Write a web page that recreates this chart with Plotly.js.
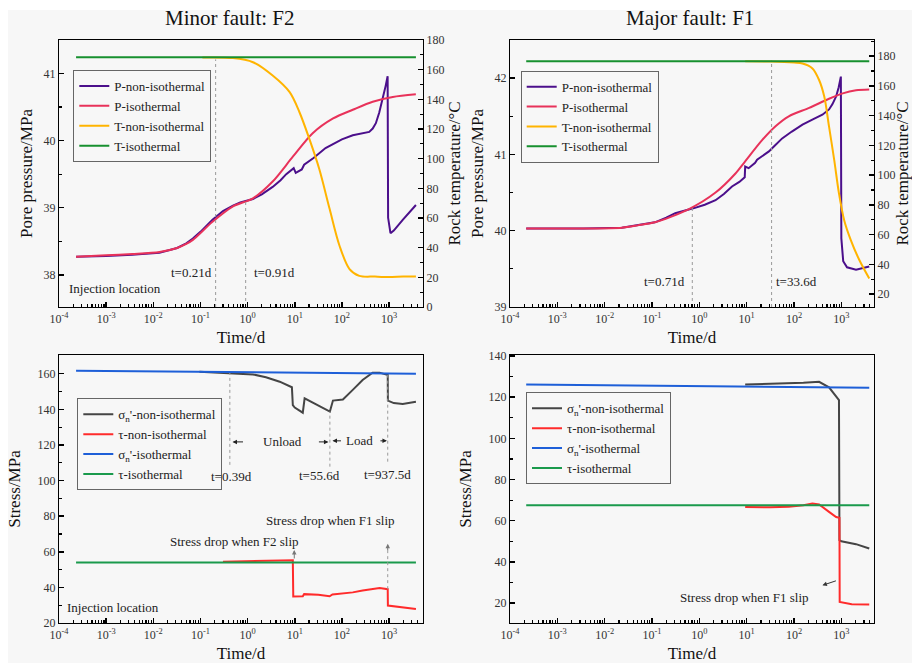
<!DOCTYPE html>
<html><head><meta charset="utf-8">
<script src="https://cdn.plot.ly/plotly-3.0.1.min.js"></script>
<style>html,body{margin:0;padding:0;background:#fff}#chart{width:912px;height:663px}</style>
</head><body><div id="chart"></div>
<script>
// ---------- Panel 1: Minor fault F2 (pressure & temperature) ----------
const p1_t_Pnon = [0.00023, 0.001, 0.0036, 0.0135, 0.032, 0.05, 0.069, 0.1, 0.18, 0.3, 0.49, 0.7, 1.3, 2, 3.4, 5, 6.6, 9.5, 10.5, 14.1, 15.8, 25, 45, 100, 170, 250, 380, 450, 525, 620, 724, 850, 933, 955, 1072, 1259, 1950, 3715];
const p1_Pnon   = [38.27, 38.28, 38.30, 38.33, 38.40, 38.47, 38.54, 38.64, 38.82, 38.95, 39.03, 39.08, 39.13, 39.20, 39.31, 39.41, 39.50, 39.59, 39.52, 39.57, 39.64, 39.74, 39.89, 40.02, 40.08, 40.10, 40.13, 40.18, 40.26, 40.42, 40.60, 40.82, 40.96, 38.85, 38.62, 38.66, 38.82, 39.04];
const p1_t_Piso = [0.00023, 0.001, 0.0036, 0.0135, 0.032, 0.05, 0.069, 0.18, 0.49, 1.3, 3.4, 9.1, 24, 65, 170, 450, 1200, 3700];
const p1_Piso   = [38.27, 38.29, 38.31, 38.34, 38.40, 38.46, 38.52, 38.79, 39.02, 39.14, 39.39, 39.76, 40.11, 40.33, 40.46, 40.58, 40.65, 40.69];
const p1_t_Tnon = [0.11, 0.49, 1.3, 3.4, 7.8, 12.6, 20.4, 33.1, 55, 89, 145, 234, 501, 1000, 1995, 3715];
const p1_Tnon   = [168.2, 167.8, 165, 156, 144.8, 131.3, 113.3, 93, 66, 41.3, 25.6, 21, 20.5, 20.2, 20.5, 20.5];
const p1_t_Tiso = [0.00023, 3715];
const p1_Tiso   = [168.3, 168.3];
const p1_events = [0.21, 0.91];
const p1_eventTop = [41.21, 39.12];

// ---------- Panel 2: Major fault F1 (pressure & temperature) ----------
const p2_t_Pnon = [0.00022, 0.0036, 0.023, 0.05, 0.115, 0.2, 0.31, 0.81, 1.3, 2.2, 3.3, 4.9, 7, 9.1, 9.3, 11, 15.1, 16.6, 22, 29.5, 40, 56.2, 90, 151, 250, 398, 550, 650, 776, 880, 977, 1000, 1096, 1318, 2042, 3890];
const p2_Pnon   = [40.03, 40.03, 40.04, 40.07, 40.11, 40.17, 40.23, 40.30, 40.34, 40.40, 40.48, 40.58, 40.64, 40.70, 40.84, 40.82, 40.89, 40.93, 40.98, 41.04, 41.12, 41.21, 41.30, 41.39, 41.46, 41.52, 41.59, 41.66, 41.76, 41.88, 42.02, 39.9, 39.6, 39.52, 39.49, 39.53];
const p2_t_Piso = [0.00022, 0.0036, 0.023, 0.05, 0.115, 0.59, 2.2, 5.8, 9.3, 21.4, 40.7, 77.6, 209, 550, 1072, 2042, 3890];
const p2_Piso   = [40.03, 40.03, 40.04, 40.07, 40.11, 40.28, 40.50, 40.75, 40.91, 41.19, 41.37, 41.50, 41.61, 41.73, 41.80, 41.84, 41.85];
const p2_t_Tnon = [9.3, 31.6, 100, 151, 245, 339, 437, 550, 708, 891, 1148, 1585, 2399, 3890];
const p2_Tnon   = [176.5, 176.3, 175.6, 175, 171.7, 163.9, 152.6, 132.5, 110, 87.7, 69.7, 56.3, 42.9, 30.5];
const p2_t_Tiso = [0.00022, 3890];
const p2_Tiso   = [176.5, 176.5];
const p2_events = [0.71, 33.6];
const p2_eventTop = [40.31, 42.23];

// ---------- Panel 3: Minor fault F2 (stress) ----------
const p3_t_Snon = [0.095, 0.45, 1.3, 2.45, 4.8, 8.7, 9.1, 10, 14.8, 16.2, 28.2, 55.6, 64.6, 105, 170, 275, 447, 631, 871, 937, 945, 1259, 1950, 3715];
const p3_Snon   = [161.1, 160.4, 159.6, 158, 155.5, 152.4, 142.4, 141, 138.1, 146.2, 143, 138.7, 144.9, 145.5, 150.9, 156.5, 160.6, 160.6, 159.5, 159.5, 144.9, 143.5, 143, 144.3];
const p3_t_Tnon = [0.3, 3.2, 9.1, 9.3, 14.8, 15.8, 31.6, 55, 63, 170, 275, 631, 937, 945, 3715];
const p3_Tnon   = [54.4, 54.8, 55.2, 34.9, 35, 36.2, 35.8, 35, 36, 37.2, 38.3, 39.6, 39, 29.8, 27.9];
const p3_t_Siso = [0.00023, 1, 3715];
const p3_Siso   = [161.7, 160.9, 160.0];
const p3_t_Tiso = [0.00023, 3715];
const p3_Tiso   = [54.0, 54.0];
const p3_events = [0.42, 55.6, 937.5];
const p3_eventTop = [160.4, 138.7, 159.3];
const p3_eventBot = [108.8, 107.8, 110.6];
const p3_slipT = [937.5, 937.5];
const p3_slipS = [39, 63];

// ---------- Panel 4: Major fault F1 (stress) ----------
const p4_t_Snon = [9.3, 31.6, 77.6, 158, 339, 550, 891, 912, 1000, 2042, 3890];
const p4_Snon   = [126.2, 126.4, 126.6, 127, 127.5, 124.8, 118.6, 50.5, 50, 48.6, 46.5];
const p4_t_Tnon = [9.3, 31.6, 77.6, 158, 245, 339, 550, 776, 912, 923, 1660, 3890];
const p4_Tnon   = [66.7, 66.5, 66.8, 67.5, 68.3, 67.9, 64.3, 61.8, 61.4, 20.5, 19.4, 19.3];
const p4_t_Siso = [0.00022, 3890];
const p4_Siso   = [126.2, 124.6];
const p4_t_Tiso = [0.00022, 3890];
const p4_Tiso   = [67.5, 67.5];

// ---------- Tick labels ----------
const decadeVals = [0.0001, 0.001, 0.01, 0.1, 1, 10, 100, 1000];
const decadeText = ['10<sup>-4</sup>', '10<sup>-3</sup>', '10<sup>-2</sup>', '10<sup>-1</sup>', '10<sup>0</sup>', '10<sup>1</sup>', '10<sup>2</sup>', '10<sup>3</sup>'];

const FONT = "'Liberation Serif', 'Times New Roman', serif";
const COL = {
  Pnon: '#4B0F8B', Piso: '#E8325A', Tnon: '#FFB400', Tiso: '#17902F',
  Snon: '#454545', Tau: '#FF2B2B', Siso: '#1E5FD8', TauIso: '#1A9A4C'
};

function tr(x, y, name, color, xa, ya, legend, smooth) {
  const ln = { color: color, width: 2 };
  if (smooth) { ln.shape = 'spline'; ln.smoothing = smooth; }
  return { type: 'scatter', mode: 'lines', x: x, y: y, name: name,
    line: ln, xaxis: xa, yaxis: ya, legend: legend };
}
function dotted(x, y, xa, ya) {
  return { type: 'scatter', mode: 'lines', x: x, y: y, xaxis: xa, yaxis: ya,
    line: { color: '#9a9a9a', width: 1, dash: 'dot' }, showlegend: false };
}

const sn = 'σ<sub>n</sub>\'';
// main subplots: x/y, x2/y2, x3/y3, x4/y4 ; temperature overlays: y5 on panel 1, y6 on panel 2
const traces = [
  tr(p1_t_Pnon, p1_Pnon, 'P-non-isothermal', COL.Pnon, 'x', 'y', 'legend'),
  tr(p1_t_Piso, p1_Piso, 'P-isothermal', COL.Piso, 'x', 'y', 'legend', 0.8),
  tr(p1_t_Tnon, p1_Tnon, 'T-non-isothermal', COL.Tnon, 'x', 'y5', 'legend', 0.9),
  tr(p1_t_Tiso, p1_Tiso, 'T-isothermal', COL.Tiso, 'x', 'y5', 'legend'),

  tr(p2_t_Pnon, p2_Pnon, 'P-non-isothermal', COL.Pnon, 'x2', 'y2', 'legend2'),
  tr(p2_t_Piso, p2_Piso, 'P-isothermal', COL.Piso, 'x2', 'y2', 'legend2', 0.8),
  tr(p2_t_Tnon, p2_Tnon, 'T-non-isothermal', COL.Tnon, 'x2', 'y6', 'legend2', 0.9),
  tr(p2_t_Tiso, p2_Tiso, 'T-isothermal', COL.Tiso, 'x2', 'y6', 'legend2'),

  tr(p3_t_Snon, p3_Snon, sn + '-non-isothermal', COL.Snon, 'x3', 'y3', 'legend3'),
  tr(p3_t_Tnon, p3_Tnon, 'τ-non-isothermal', COL.Tau, 'x3', 'y3', 'legend3'),
  tr(p3_t_Siso, p3_Siso, sn + '-isothermal', COL.Siso, 'x3', 'y3', 'legend3'),
  tr(p3_t_Tiso, p3_Tiso, 'τ-isothermal', COL.TauIso, 'x3', 'y3', 'legend3'),

  tr(p4_t_Snon, p4_Snon, sn + '-non-isothermal', COL.Snon, 'x4', 'y4', 'legend4'),
  tr(p4_t_Tnon, p4_Tnon, 'τ-non-isothermal', COL.Tau, 'x4', 'y4', 'legend4'),
  tr(p4_t_Siso, p4_Siso, sn + '-isothermal', COL.Siso, 'x4', 'y4', 'legend4'),
  tr(p4_t_Tiso, p4_Tiso, 'τ-isothermal', COL.TauIso, 'x4', 'y4', 'legend4')
];
p1_events.forEach((t, i) => traces.push(dotted([t, t], [37.52, p1_eventTop[i]], 'x', 'y')));
p2_events.forEach((t, i) => traces.push(dotted([t, t], [39, p2_eventTop[i]], 'x2', 'y2')));
p3_events.forEach((t, i) => traces.push(dotted([t, t], [p3_eventBot[i], p3_eventTop[i]], 'x3', 'y3')));
traces.push(dotted(p3_slipT, p3_slipS, 'x3', 'y3'));

const tickFont = { family: FONT, size: 12, color: '#333' };
const titleFont = { family: FONT, size: 17, color: '#111' };

function xAxis(domain, anchor, range) {
  return {
    type: 'log', domain: domain, anchor: anchor, range: range,
    tickmode: 'array', tickvals: decadeVals, ticktext: decadeText,
    ticks: 'inside', ticklen: 5, tickwidth: 1.5, tickcolor: '#000',
    minor: { ticks: 'inside', ticklen: 3, tickwidth: 1.2, tickcolor: '#000', dtick: 'D1', showgrid: false },
    showline: true, linecolor: '#000', linewidth: 1.2, mirror: true,
    showgrid: false, zeroline: false, tickfont: tickFont,
    title: { text: 'Time/d', font: titleFont, standoff: 6 }
  };
}
function yAxis(domain, anchor, range, dtick, title, standoff, extra) {
  return Object.assign({
    domain: domain, anchor: anchor, range: range, tickmode: 'linear', tick0: 0, dtick: dtick,
    ticks: 'inside', ticklen: 5, tickwidth: 1.5, tickcolor: '#000',
    minor: { ticks: 'inside', ticklen: 3, tickwidth: 1.2, tickcolor: '#000', dtick: dtick / 2, showgrid: false },
    showline: true, linecolor: '#000', linewidth: 1.2,
    showgrid: false, zeroline: false, tickfont: tickFont,
    title: { text: title, font: titleFont, standoff: standoff }
  }, extra || {});
}

const W = 912, H = 663;
const dx1 = [59 / W, 423 / W], dx2 = [510 / W, 874 / W];
const dyTop = [(H - 307) / H, (H - 40) / H], dyBot = [(H - 623) / H, (H - 355) / H];

function legendAt(px, py) {
  return { x: px / W, y: 1 - py / H, xanchor: 'left', yanchor: 'top',
    bgcolor: 'rgba(0,0,0,0)', bordercolor: '#666', borderwidth: 1,
    font: { family: FONT, size: 13, color: '#222' }, itemwidth: 30, tracegroupgap: 0 };
}

const L = Math.log10;
function txt(text, xa, ya, x, y, xanchor) {
  return { text: text, xref: xa, yref: ya, x: x, y: y, showarrow: false,
    xanchor: xanchor || 'center', yanchor: 'middle', font: { family: FONT, size: 13, color: '#222' } };
}
function arrow(xa, ya, x, y, ax, ay, color) {
  return { text: '', xref: xa, yref: ya, x: x, y: y, ax: ax, ay: ay, showarrow: true,
    arrowhead: 2, arrowsize: 0.9, arrowwidth: 1, arrowcolor: color || '#222' };
}

const annotations = [
  { text: 'Minor fault: F2', xref: 'paper', yref: 'paper', x: 230 / W, y: 1 - 18 / H, showarrow: false,
    xanchor: 'center', yanchor: 'middle', font: { family: FONT, size: 21, color: '#111' } },
  { text: 'Major fault: F1', xref: 'paper', yref: 'paper', x: 689.5 / W, y: 1 - 18 / H, showarrow: false,
    xanchor: 'center', yanchor: 'middle', font: { family: FONT, size: 21, color: '#111' } },
  txt('t=0.21d', 'x', 'y', -1.19, 38.04),
  txt('t=0.91d', 'x', 'y', 0.57, 38.03),
  txt('Injection location', 'x', 'y', -3.84, 37.79, 'left'),
  txt('t=0.71d', 'x2', 'y2', -0.745, 39.34),
  txt('t=33.6d', 'x2', 'y2', 2.05, 39.34),
  txt('t=0.39d', 'x3', 'y3', -0.35, 102.2),
  txt('t=55.6d', 'x3', 'y3', 1.52, 102.6),
  txt('t=937.5d', 'x3', 'y3', 2.96, 103.2),
  txt('Unload', 'x3', 'y3', 0.74, 121.7),
  txt('Load', 'x3', 'y3', 2.37, 122.3),
  txt('Stress drop when F2 slip', 'x3', 'y3', -0.28, 65.6),
  txt('Stress drop when F1 slip', 'x3', 'y3', 1.75, 77.6),
  txt('Injection location', 'x3', 'y3', -3.88, 28.6, 'left'),
  txt('Stress drop when F1 slip', 'x4', 'y4', 0.953, 22.9),
  arrow('x3', 'y3', -0.32, 121.7, 12, 0),
  arrow('x3', 'y3', 1.714, 121.7, -11, 0),
  arrow('x3', 'y3', 1.80, 122.3, 10, 0),
  arrow('x3', 'y3', 2.955, 122.3, -8, 0),
  arrow('x3', 'y3', 0.99, 61, 0, 10, '#777'),
  arrow('x3', 'y3', L(937.5), 64.5, 0, 8, '#777'),
  arrow('x4', 'y4', 2.60, 28.6, 15, -5, '#333')
];

const layout = {
  width: W, height: H, margin: { l: 0, r: 0, t: 0, b: 0 },
  plot_bgcolor: 'rgba(0,0,0,0)',
  showlegend: true,
  xaxis: xAxis(dx1, 'y', [-4, 3.72]),
  xaxis2: xAxis(dx2, 'y2', [-4, 3.69]),
  xaxis3: xAxis(dx1, 'y3', [-4, 3.72]),
  xaxis4: xAxis(dx2, 'y4', [-4, 3.69]),
  yaxis: yAxis(dyTop, 'x', [37.52, 41.5], 1, 'Pore pressure/MPa', 6, { mirror: true }),
  yaxis2: yAxis(dyTop, 'x2', [39, 42.5], 1, 'Pore pressure/MPa', 6, { mirror: true }),
  yaxis3: yAxis(dyBot, 'x3', [20, 170.5], 20, 'Stress/MPa', 12, { mirror: true }),
  yaxis4: yAxis(dyBot, 'x4', [10.3, 140.5], 20, 'Stress/MPa', 12, { mirror: true }),
  yaxis5: yAxis(dyTop, 'x', [0, 180], 20, 'Rock temperature/°C', 3, { overlaying: 'y', side: 'right' }),
  yaxis6: yAxis(dyTop, 'x2', [11.3, 190.8], 20, 'Rock temperature/°C', 3, { overlaying: 'y2', side: 'right' }),
  legend: legendAt(73.3, 70),
  legend2: legendAt(520.7, 70.7),
  legend3: legendAt(77.3, 398.3),
  legend4: legendAt(526, 392.3),
  shapes: [{ type: 'rect', xref: 'paper', yref: 'paper', x0: 8 / W, x1: 1, y0: 0, y1: 1 - 10 / H,
    fillcolor: '#f7f7f7', line: { width: 0 }, layer: 'below' }],
  annotations: annotations
};

Plotly.newPlot('chart', traces, layout, { staticPlot: true, displayModeBar: false });
</script>
</body></html>
